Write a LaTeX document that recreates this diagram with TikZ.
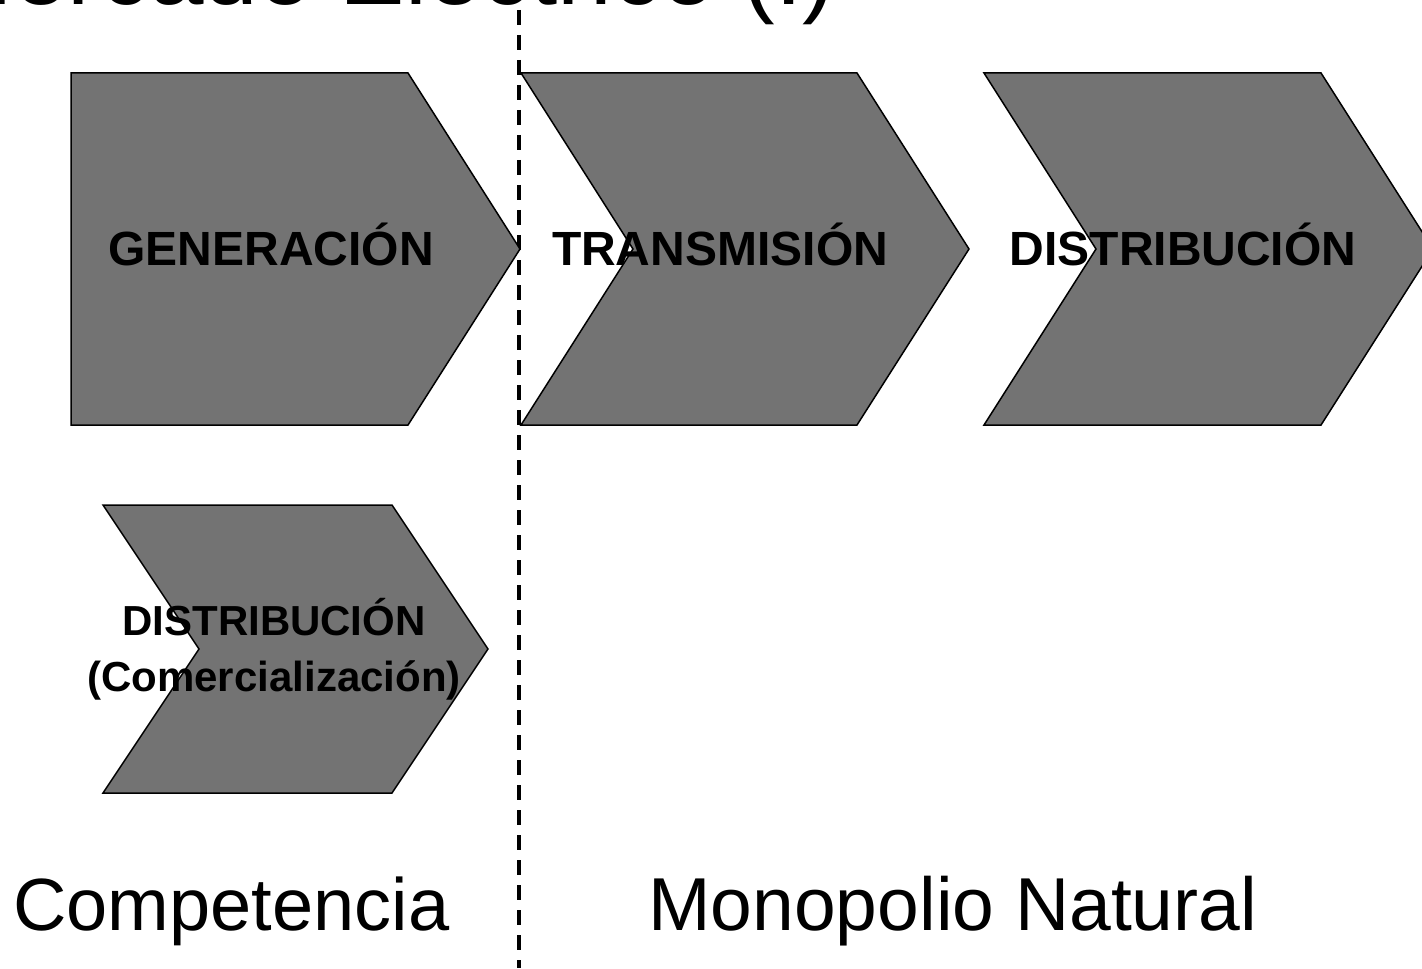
\documentclass[tikz,border=0pt]{standalone}
\usepackage{fontspec}
\setmainfont{Liberation Sans}
\usepackage{tikz}
\definecolor{gris}{RGB}{115,115,115}

\begin{document}
\begin{tikzpicture}[x=0.5pt,y=-0.5pt,
    etapa/.style={fill=gris, draw=black, line width=0.75pt, line join=miter},
    rotulo/.style={font=\fontsize{24}{29}\selectfont\bfseries, anchor=base, inner sep=0pt},
    grande/.style={font=\fontsize{37}{44}\selectfont, anchor=base west, inner sep=0pt},
    frontera/.style={line width=1.6pt, dash pattern=on 7.5pt off 5pt}]
  \useasboundingbox (0,0) rectangle (1422,968);
  \clip (0,0) rectangle (1422,968);
  % titulo, cortado arriba
  \node[font=\fontsize{49}{58}\selectfont, anchor=base east, inner sep=0pt] (titulo) at (836,5) {Mercado Eléctrico (I)};
  % linea divisoria
  \coordinate (arriba) at (519,10);
  \coordinate (abajo) at (519,968);
  \draw[frontera] (arriba) -- (abajo);
  % etapas
  \draw[etapa] (71,73) -- (408,73) -- (520,249) -- (408,425) -- (71,425) -- cycle;
  \draw[etapa] (521,73) -- (857,73) -- (969,249) -- (857,425) -- (521,425) -- (633,249) -- cycle;
  \draw[etapa] (984,73) -- (1321,73) -- (1433,249) -- (1321,425) -- (984,425) -- (1096,249) -- cycle;
  \draw[etapa] (103,505) -- (392,505) -- (488,649) -- (392,793) -- (103,793) -- (199,649) -- cycle;
  \node[rotulo] (gen) at (271,265) {GENERACIÓN};
  \node[rotulo] (tra) at (720,265) {TRANSMISIÓN};
  \node[rotulo] (dis) at (1183,265) {DISTRIBUCIÓN};
  \node[font=\fontsize{21}{28}\selectfont\bfseries, align=center] (com) at (274,649) {DISTRIBUCIÓN\\(Comercialización)};
  \node[grande] (compe) at (13,930) {Competencia};
  \node[grande, font=\fontsize{37.5}{44}\selectfont] (mono) at (648,930) {Monopolio Natural};
\end{tikzpicture}
\end{document}
